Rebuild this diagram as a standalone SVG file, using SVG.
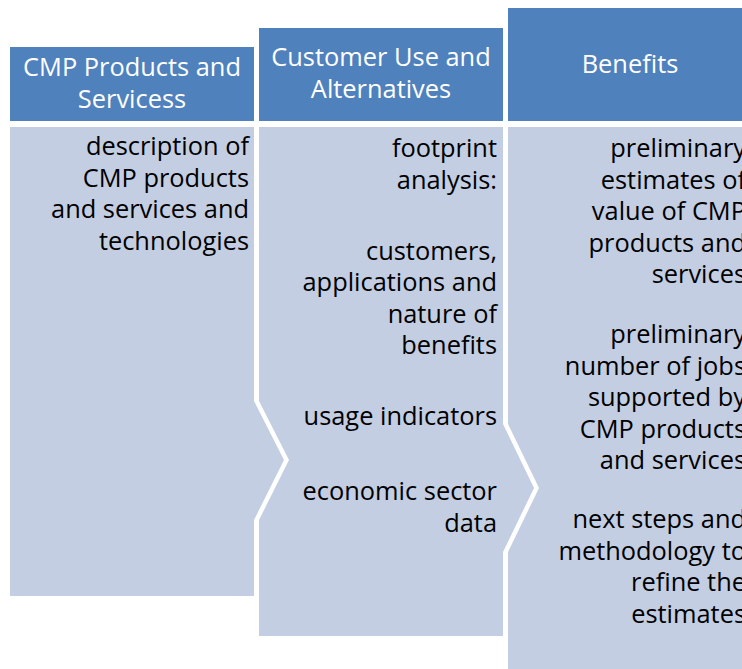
<svg xmlns="http://www.w3.org/2000/svg" width="742" height="669" viewBox="0 0 742 669">
<style>
.hdr{fill:#4F81BD}
.body{fill:#C4CEE2}
text{font-family:"Open Sans","Noto Sans","DejaVu Sans",sans-serif;font-size:25.4px}
.ht{fill:#FFFFFF;text-anchor:middle}
.bt{fill:#000000;text-anchor:end}
</style>
<rect width="742" height="669" fill="#FFFFFF"/>
<g id="col1">
<rect class="hdr" x="10" y="47" width="244" height="74"/>
<text class="ht" x="132" y="76">CMP Products and</text>
<text class="ht" x="132" y="108">Servicess</text>
<polygon class="body" points="10,127 254,127 254,401 284,460 254,520 254,596 10,596"/>
<text class="bt" x="249" y="155">description of</text>
<text class="bt" x="249" y="186.6">CMP products</text>
<text class="bt" x="249" y="218.2">and services and</text>
<text class="bt" x="249" y="249.8">technologies</text>
</g>
<g id="col2">
<rect class="hdr" x="259" y="28" width="244" height="93"/>
<text class="ht" x="381" y="66">Customer Use and</text>
<text class="ht" x="381" y="98">Alternatives</text>
<polygon class="body" points="259,127 503,127 503,424 534,488 503,552 503,636 259,636 259,520 289,460 259,401"/>
<text class="bt" x="497" y="157">footprint</text>
<text class="bt" x="497" y="188.6">analysis:</text>
<text class="bt" x="497" y="259.5">customers,</text>
<text class="bt" x="497" y="291.1">applications and</text>
<text class="bt" x="497" y="322.7">nature of</text>
<text class="bt" x="497" y="354.3">benefits</text>
<text class="bt" x="497" y="425">usage indicators</text>
<text class="bt" x="497" y="500">economic sector</text>
<text class="bt" x="497" y="531.6">data</text>
</g>
<g id="col3">
<rect class="hdr" x="508" y="8" width="244" height="113"/>
<text class="ht" x="630" y="73">Benefits</text>
<polygon class="body" points="508,127 752,127 752,680 508,680 508,552 539,488 508,424"/>
<text class="bt" x="746" y="157">preliminary</text>
<text class="bt" x="746" y="188.6">estimates of</text>
<text class="bt" x="746" y="220.2">value of CMP</text>
<text class="bt" x="746" y="251.8">products and</text>
<text class="bt" x="746" y="283.4">services</text>
<text class="bt" x="746" y="343">preliminary</text>
<text class="bt" x="746" y="374.6">number of jobs</text>
<text class="bt" x="746" y="406.2">supported by</text>
<text class="bt" x="746" y="437.8">CMP products</text>
<text class="bt" x="746" y="469.4">and services</text>
<text class="bt" x="746" y="528">next steps and</text>
<text class="bt" x="746" y="559.6">methodology to</text>
<text class="bt" x="746" y="591.2">refine the</text>
<text class="bt" x="746" y="622.8">estimates</text>
</g>
</svg>
